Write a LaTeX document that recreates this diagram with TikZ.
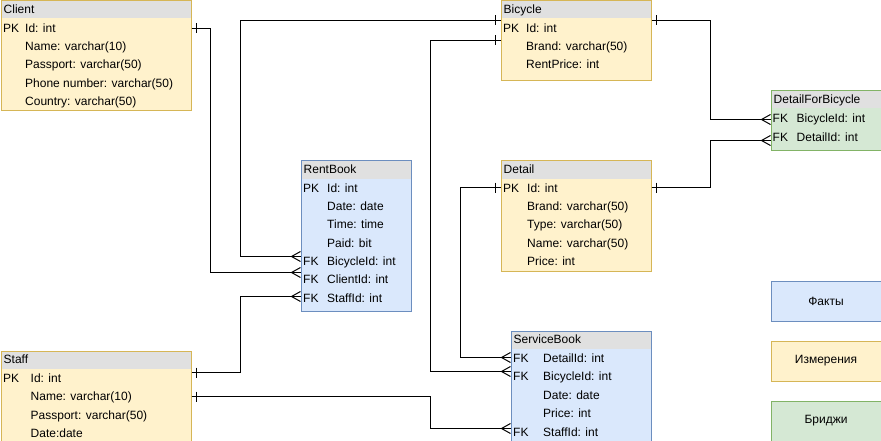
\documentclass[tikz,border=0pt]{standalone}
\usepackage{fontspec}
\setmainfont{Liberation Sans}
\definecolor{yfill}{HTML}{FFF2CC}
\definecolor{yline}{HTML}{D6B656}
\definecolor{bfill}{HTML}{DAE8FC}
\definecolor{bline}{HTML}{6C8EBF}
\definecolor{gfill}{HTML}{D5E8D4}
\definecolor{gline}{HTML}{82B366}
\definecolor{hdr}{HTML}{E0E0E0}
\begin{document}
\begin{tikzpicture}[x=1pt,y=-1pt,
  txt/.style={anchor=base west,inner sep=0pt,font=\fontsize{12}{14}\selectfont,text=black},
  legtxt/.style={inner sep=0pt,font=\fontsize{12}{14}\selectfont,text=black},
  conn/.style={draw=black,line width=1pt},
  ]
\useasboundingbox (0,0) rectangle (881,441);
\fill[white] (0,0) rectangle (881,441);
% entity macro: #1 name, #2 x1, #3 y1, #4 x2, #5 y2, #6 fill, #7 line, #8 title
\newcommand\ent[8]{%
  \fill[#6] (#2,#3) rectangle (#4,#5);
  \fill[hdr] (#2,#3) rectangle (#4,#3+18);
  \node[draw=#7,line width=1pt,anchor=north west,inner sep=0pt,minimum width=#4-#2,minimum height=#5-#3] (#1) at (#2,#3) {};
  \node[txt] (#1-title) at (#2+3,#3+13) {#8};
}
% row macro: #1 name, #2 key x, #3 key, #4 field x, #5 text, #6 center y
\newcommand\fld[6]{%
  \node[txt] (#1-k) at (#2,#6+4.3) {#3};
  \node[txt] (#1) at (#4,#6+4.3) {#5};
}
% ---- entities
\ent{client}{0.5}{0.5}{190.5}{110.5}{yfill}{yline}{Client}
\fld{c1}{3}{PK}{25}{Id: int}{28}
\fld{c2}{3}{}{25}{Name: varchar(10)}{46.3}
\fld{c3}{3}{}{25}{Passport: varchar(50)}{64.6}
\fld{c4}{3}{}{25}{Phone number: varchar(50)}{82.9}
\fld{c5}{3}{}{25}{Country: varchar(50)}{101.2}

\ent{bicycle}{500.5}{0.5}{650.5}{80.5}{yfill}{yline}{Bicycle}
\fld{b1}{503}{PK}{526}{Id: int}{28}
\fld{b2}{503}{}{526}{Brand: varchar(50)}{46.3}
\fld{b3}{503}{}{526}{RentPrice: int}{64.6}

\ent{dfb}{770.5}{90.5}{880.5}{150.5}{gfill}{gline}{DetailForBicycle}
\fld{d1}{772.5}{FK}{796.5}{BicycleId: int}{118.5}
\fld{d2}{772.5}{FK}{796.5}{DetailId: int}{137}

\ent{rent}{300.5}{160.5}{410.5}{310.5}{bfill}{bline}{RentBook}
\fld{r1}{303}{PK}{327}{Id: int}{188}
\fld{r2}{303}{}{327}{Date: date}{206.3}
\fld{r3}{303}{}{327}{Time: time}{224.6}
\fld{r4}{303}{}{327}{Paid: bit}{242.9}
\fld{r5}{303}{FK}{327}{BicycleId: int}{261.2}
\fld{r6}{303}{FK}{327}{ClientId: int}{279.5}
\fld{r7}{303}{FK}{327}{StaffId: int}{297.8}

\ent{detail}{500.5}{160.5}{650.5}{270.5}{yfill}{yline}{Detail}
\fld{e1}{503}{PK}{527}{Id: int}{188}
\fld{e2}{503}{}{527}{Brand: varchar(50)}{206.3}
\fld{e3}{503}{}{527}{Type: varchar(50)}{224.6}
\fld{e4}{503}{}{527}{Name: varchar(50)}{242.9}
\fld{e5}{503}{}{527}{Price: int}{261.2}

\ent{staff}{0.5}{350.5}{190.5}{440.5}{yfill}{yline}{Staff}
\fld{s1}{3}{PK}{30.5}{Id: int}{378}
\fld{s2}{3}{}{30.5}{Name: varchar(10)}{396.5}
\fld{s3}{3}{}{30.5}{Passport: varchar(50)}{415}
\fld{s4}{3}{}{30.5}{Date:date}{433.5}

\ent{service}{510.5}{330.5}{650.5}{440.5}{bfill}{bline}{ServiceBook}
\fld{v1}{513}{FK}{543}{DetailId: int}{358}
\fld{v2}{513}{FK}{543}{BicycleId: int}{376.5}
\fld{v3}{513}{}{543}{Date: date}{395}
\fld{v4}{513}{}{543}{Price: int}{413.5}
\fld{v5}{513}{FK}{543}{StaffId: int}{432}

% ---- legend
\node[draw=bline,fill=bfill,line width=1pt,anchor=north west,minimum width=110,minimum height=40,inner sep=0pt] (legf) at (770.5,280.5) {};
\node[legtxt] at (legf.center) {Факты};
\node[draw=yline,fill=yfill,line width=1pt,anchor=north west,minimum width=110,minimum height=40,inner sep=0pt] (legi) at (770.5,340.5) {};
\node[legtxt] at (legi.center) {Измерения};
\node[draw=gline,fill=gfill,line width=1pt,anchor=north west,minimum width=110,minimum height=40,inner sep=0pt] (legb) at (770.5,400.5) {};
\node[legtxt] at (legb.center) {Бриджи};

% ---- connector end points
\coordinate (pClient) at (client.east |- 0,28.5);
\coordinate (pRentBic) at (rent.west |- 0,256.5);
\coordinate (pRentCli) at (rent.west |- 0,272.5);
\coordinate (pRentSta) at (rent.west |- 0,296.5);
\coordinate (pBicL1) at (bicycle.west |- 0,20.5);
\coordinate (pBicL2) at (bicycle.west |- 0,40.5);
\coordinate (pBicR) at (bicycle.east |- 0,20.5);
\coordinate (pDfb1) at (dfb.west |- 0,119.5);
\coordinate (pDfb2) at (dfb.west |- 0,140.5);
\coordinate (pDetL) at (detail.west |- 0,187.5);
\coordinate (pDetR) at (detail.east |- 0,187.5);
\coordinate (pSvDet) at (service.west |- 0,357.5);
\coordinate (pSvBic) at (service.west |- 0,371.5);
\coordinate (pSvSta) at (service.west |- 0,428.5);
\coordinate (pStaff1) at (staff.east |- 0,372.5);
\coordinate (pStaff2) at (staff.east |- 0,396.5);

% tick (one) and crow's foot (many)
\newcommand\oneR[1]{\draw[conn] ([xshift=5]#1) ++(0,-5) -- ++(0,10);}
\newcommand\oneL[1]{\draw[conn] ([xshift=-5]#1) ++(0,-5) -- ++(0,10);}
\newcommand\many[1]{\draw[conn] ([yshift=-5]#1) -- ([xshift=-9]#1) -- ([yshift=5]#1);}

% ---- connectors
\draw[conn] (pClient) -- (210.5,28.5) -- (210.5,272.5) -- (pRentCli);
\oneR{pClient}\many{pRentCli}

\draw[conn] (pBicL1) -- (240.5,20.5) -- (240.5,256.5) -- (pRentBic);
\oneL{pBicL1}\many{pRentBic}

\draw[conn] (pBicL2) -- (430.5,40.5) -- (430.5,371.5) -- (pSvBic);
\oneL{pBicL2}\many{pSvBic}

\draw[conn] (pBicR) -- (710.5,20.5) -- (710.5,119.5) -- (pDfb1);
\oneR{pBicR}\many{pDfb1}

\draw[conn] (pDetR) -- (710.5,187.5) -- (710.5,140.5) -- (pDfb2);
\oneR{pDetR}\many{pDfb2}

\draw[conn] (pDetL) -- (460.5,187.5) -- (460.5,357.5) -- (pSvDet);
\oneL{pDetL}\many{pSvDet}

\draw[conn] (pStaff1) -- (240.5,372.5) -- (240.5,296.5) -- (pRentSta);
\oneR{pStaff1}\many{pRentSta}

\draw[conn] (pStaff2) -- (430.5,396.5) -- (430.5,428.5) -- (pSvSta);
\oneR{pStaff2}\many{pSvSta}
\end{tikzpicture}
\end{document}
